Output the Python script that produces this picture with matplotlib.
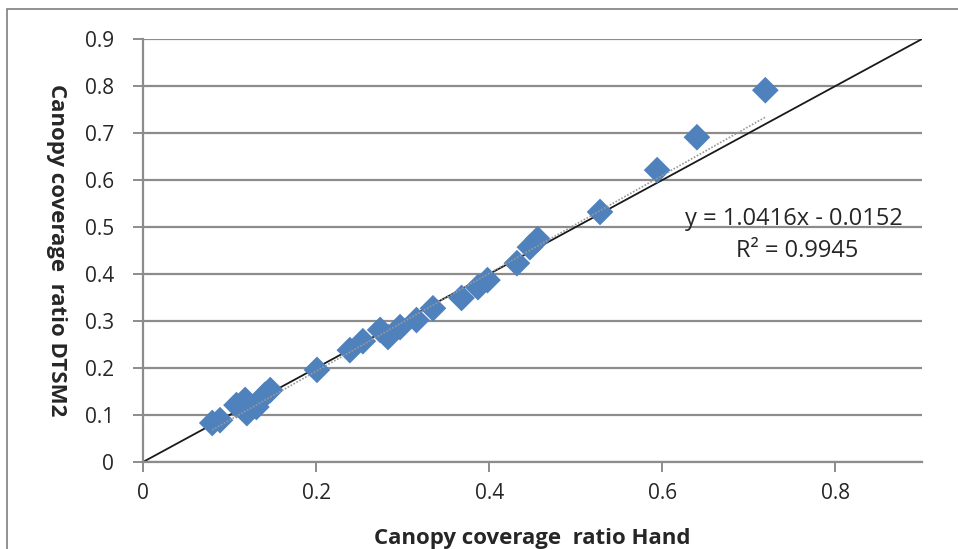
import numpy as np
import matplotlib.pyplot as plt
from matplotlib.patches import Rectangle

# Canopy coverage ratio: hand count vs DTSM2
hand = [0.080, 0.089, 0.108, 0.120, 0.118, 0.131, 0.141, 0.147,
        0.201, 0.239, 0.254, 0.274, 0.283, 0.297, 0.316, 0.335,
        0.368, 0.387, 0.398, 0.432, 0.447, 0.456, 0.528, 0.594,
        0.640, 0.719]
dtsm2 = [0.083, 0.089, 0.121, 0.104, 0.132, 0.117, 0.143, 0.153,
         0.196, 0.238, 0.257, 0.281, 0.266, 0.287, 0.302, 0.327,
         0.349, 0.372, 0.387, 0.423, 0.457, 0.474, 0.532, 0.621,
         0.691, 0.791]

slope = 1.0416
intercept = -0.0152
r2 = 0.9945

x_ticks = [0, 0.2, 0.4, 0.6, 0.8]
y_ticks = [0, 0.1, 0.2, 0.3, 0.4, 0.5, 0.6, 0.7, 0.8, 0.9]

plt.rcParams['font.family'] = ['Open Sans', 'DejaVu Sans']
grey = "#8c8c8c"
ink = "#262626"

fig = plt.figure(figsize=(9.58, 5.49), dpi=100)
ax = fig.add_axes([143 / 958, 1 - 462 / 549, 779 / 958, 423 / 549])

# outer frame (left and top edges visible)
fig.patches.append(Rectangle((7 / 958, -0.05), 1.2, 1 - 9 / 549 + 0.05,
                             transform=fig.transFigure, fill=False,
                             edgecolor="#7f7f7f", linewidth=1.2))

ax.set_xlim(0, 0.9)
ax.set_ylim(0, 0.9)
ax.set_xticks(x_ticks)
ax.set_yticks(y_ticks)
ax.set_xticklabels(["0", "0.2", "0.4", "0.6", "0.8"])
ax.set_yticklabels(["0", "0.1", "0.2", "0.3", "0.4", "0.5", "0.6", "0.7", "0.8", "0.9"])

ax.yaxis.grid(True, color=grey, linewidth=1.6)
ax.set_axisbelow(True)
for side in ["top", "right"]:
    ax.spines[side].set_visible(False)
for side in ["left", "bottom"]:
    ax.spines[side].set_color(grey)
    ax.spines[side].set_linewidth(1.6)
ax.tick_params(axis="both", colors=grey, length=7, width=1.4, labelsize=15,
               labelcolor=ink)
ax.tick_params(axis="y", pad=14)
ax.tick_params(axis="x", pad=8)

# 1:1 line
ax.plot([0, 0.9], [0, 0.9], color="#1a1a1a", linewidth=1.3, zorder=2)

ax.scatter(hand, dtsm2, marker="D", s=185, color="#4f81bd", edgecolor="none", zorder=3)

# linear trendline
xs = np.array([min(hand), max(hand)])
ax.plot(xs, slope * xs + intercept, color="#999999", linestyle=(0, (1, 1)),
        linewidth=1.2, zorder=4)

ax.text(0.752, 0.504, f"y = {slope:.4f}x - {abs(intercept):.4f}", ha="center",
        va="baseline", fontsize=17, color=ink)
ax.text(0.756, 0.436, f"R² = {r2:.4f}", ha="center", va="baseline",
        fontsize=17, color=ink)

ax.set_xlabel("Canopy coverage  ratio Hand", fontsize=16, fontweight="bold",
              color=ink, va="top")
ax.xaxis.set_label_coords(0.5, -0.155)
ax.set_ylabel("Canopy coverage  ratio DTSM2", fontsize=16, fontweight="bold",
              color=ink, rotation=270, va="center")
ax.yaxis.set_label_coords(-0.111, 0.5)

fig.savefig("out.png", dpi=100)
